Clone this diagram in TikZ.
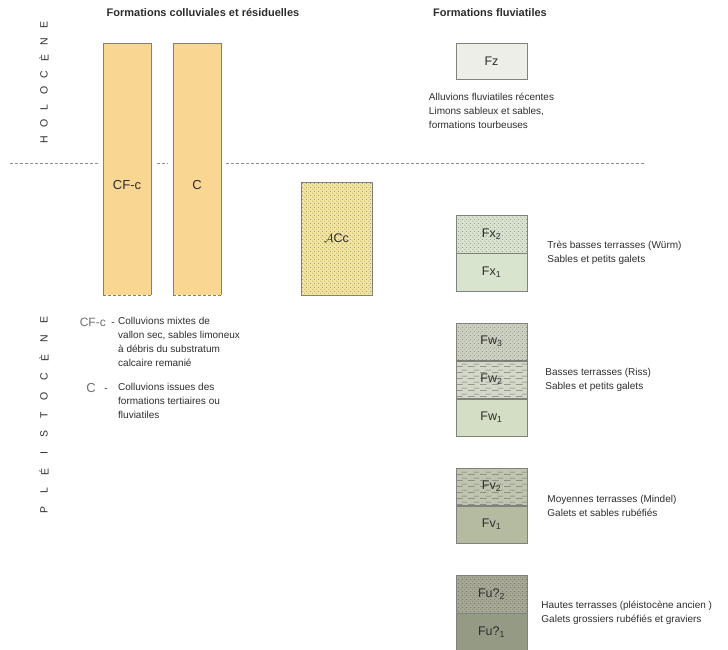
\documentclass[tikz,border=0pt]{standalone}
\usepackage{fontspec}
\setmainfont{Liberation Sans}
\usetikzlibrary{positioning,patterns.meta}
\definecolor{textgray}{RGB}{45,45,45}
\definecolor{leggray}{RGB}{110,110,110}
\definecolor{edgegray}{RGB}{130,130,125}
\definecolor{colorange}{RGB}{249,214,146}
\definecolor{sandyellow}{RGB}{245,228,160}
\definecolor{fzgray}{RGB}{238,238,232}
\definecolor{fxgreen}{RGB}{216,228,206}
\definecolor{fwtop}{RGB}{204,208,190}
\definecolor{fwmid}{RGB}{212,216,200}
\definecolor{fwbot}{RGB}{212,222,196}
\definecolor{fvtop}{RGB}{192,197,176}
\definecolor{fvbot}{RGB}{180,187,160}
\definecolor{futop}{RGB}{166,168,148}
\definecolor{fubot}{RGB}{148,154,132}

\tikzdeclarepattern{
  name=sanddots,
  type=uncolored,
  bounding box={(0,0) and (4pt,4pt)},
  tile size={(4pt,4pt)},
  code={
    \fill (1pt,1pt) circle (0.55pt);
    \fill (3pt,3pt) circle (0.55pt);
  }
}
\tikzdeclarepattern{
  name=siltdashes,
  type=uncolored,
  bounding box={(0,0) and (12pt,6pt)},
  tile size={(12pt,6pt)},
  code={
    \draw[line width=0.6pt] (0,1.5pt) -- (7pt,1.5pt);
    \draw[line width=0.6pt] (6pt,4.5pt) -- (12pt,4.5pt);
  }
}

\tikzset{
  colbox/.style={fill=colorange, minimum width=48pt, minimum height=252pt, inner sep=0pt},
  coledge/.style={draw=edgegray, line width=0.5pt},
  stratum/.style={draw=edgegray, line width=0.5pt, minimum width=71pt, minimum height=37.5pt,
    inner sep=0pt, font=\fontsize{12.5}{14}\selectfont, text=textgray},
  dotstratum/.style={stratum, preaction={fill=#1}, pattern=sanddots, pattern color=black!50},
  dashstratum/.style={stratum, preaction={fill=#1}, pattern=siltdashes, pattern color=black!55},
  plainstratum/.style={stratum, fill=#1},
  desc/.style={align=left, inner sep=0pt, font=\fontsize{10}{14}\selectfont, text=textgray},
  headtitle/.style={inner sep=0pt, font=\bfseries\fontsize{11}{12}\selectfont, text=textgray},
  boxlabel/.style={inner sep=0pt, font=\fontsize{13}{15}\selectfont, text=textgray},
  leglabel/.style={inner sep=0pt, font=\fontsize{12}{13}\selectfont, text=leggray},
  epochline/.style={draw=black!45, dash pattern=on 3pt off 2pt, line width=0.5pt},
  epoch/.style={rotate=90, inner sep=0pt, font=\fontsize{10.5}{12}\selectfont, text=textgray},
}

\begin{document}
\begin{tikzpicture}[x=1pt, y=-1pt]
  \useasboundingbox (0,0) rectangle (728,650);

  % Titres
  \node[headtitle, anchor=base] (tcol) at (203,17) {Formations colluviales et résiduelles};
  \node[headtitle, anchor=base] (tfluv) at (490,17) {Formations fluviatiles};

  % Etages
  \foreach \l [count=\i] in {H,O,L,O,C,È,N,E}
    \node[epoch] (holo\i) at (44,{140-16.4*(\i-1)}) {\l};
  \foreach \l [count=\i] in {P,L,É,I,S,T,O,C,È,N,E}
    \node[epoch] (pleis\i) at (44,{510-19*(\i-1)}) {\l};

  % Colonnes colluviales
  \node[colbox] (cfc) at (127,169) {};
  \node[colbox] (c) at (197,169) {};
  \foreach \n in {cfc,c} {
    \draw[coledge] (\n.south west) -- (\n.north west) -- (\n.north east) -- (\n.south east);
    \draw[coledge, dash pattern=on 3pt off 2pt] (\n.south west) -- (\n.south east);
  }
  \node[boxlabel] (cfclab) at ([yshift=-16pt]cfc.center) {CF-c};
  \node[boxlabel] (clab) at ([yshift=-16pt]c.center) {C};

  % Limite Holocene / Pleistocene
  \coordinate (limL) at (10,163);
  \coordinate (limR) at (645,163);
  \draw[epochline] (limL) -- ([xshift=-3pt]limL -| cfc.west);
  \draw[epochline] ([xshift=6pt]limL -| cfc.east) -- ([xshift=-5pt]limL -| c.west);
  \draw[epochline] ([xshift=5pt]limL -| c.east) -- (limR);

  % Formation residuelle
  \node[dotstratum=sandyellow, minimum height=113pt] (acc) at (336.5,238.5) {$\mathcal{A}$Cc};

  % Formations fluviatiles
  \node[plainstratum=fzgray, minimum height=36pt] (fz) at (491.5,61) {Fz};
  \node[desc, below=14pt of fz] (fzdesc)
    {Alluvions fluviatiles récentes\\Limons sableux et sables,\\formations tourbeuses};

  \node[dotstratum=fxgreen] (fx2) at (491.5,234) {Fx\textsubscript{2}};
  \node[plainstratum=fxgreen, below=0pt of fx2] (fx1) {Fx\textsubscript{1}};
  \node[desc, right=20pt of fx2.south east] (fxdesc)
    {Très basses terrasses (Würm)\\Sables et petits galets};

  \node[dotstratum=fwtop] (fw3) at (491.5,341.5) {Fw\textsubscript{3}};
  \node[dashstratum=fwmid, below=0pt of fw3] (fw2) {Fw\textsubscript{2}};
  \node[plainstratum=fwbot, below=0pt of fw2] (fw1) {Fw\textsubscript{1}};
  \node[desc, right=18pt of fw2.east] (fwdesc)
    {Basses terrasses (Riss)\\Sables et petits galets};

  \node[dashstratum=fvtop] (fv2) at (491.5,486.5) {Fv\textsubscript{2}};
  \node[plainstratum=fvbot, below=0pt of fv2] (fv1) {Fv\textsubscript{1}};
  \node[desc, right=20pt of fv2.south east] (fvdesc)
    {Moyennes terrasses (Mindel)\\Galets et sables rubéfiés};

  \node[dotstratum=futop, pattern color=black!60] (fu2) at (491.5,594) {Fu?\textsubscript{2}};
  \node[plainstratum=fubot, below=0pt of fu2] (fu1) {Fu?\textsubscript{1}};
  \node[desc, right=14pt of fu2.south east] (fudesc)
    {Hautes terrasses (pléistocène ancien )\\Galets grossiers rubéfiés et graviers};

  % Legende des colluvions
  \node[leglabel, anchor=base east] (cfcleg) at (106,326) {CF-c};
  \node[desc, anchor=base] (cfcdash) at (113,325) {-};
  \node[desc, anchor=north west] (cfcdesc) at (118,317.5)
    {Colluvions mixtes de\\vallon sec, sables limoneux\\à débris du substratum\\calcaire remanié};
  \node[leglabel, font=\fontsize{13}{14}\selectfont, anchor=base east] (cleg) at (96,392) {C};
  \node[desc, anchor=base] (cdash) at (106,391) {-};
  \node[desc, anchor=north west] (cdesc) at (118,383.5)
    {Colluvions issues des\\formations tertiaires ou\\fluviatiles};
\end{tikzpicture}
\end{document}
